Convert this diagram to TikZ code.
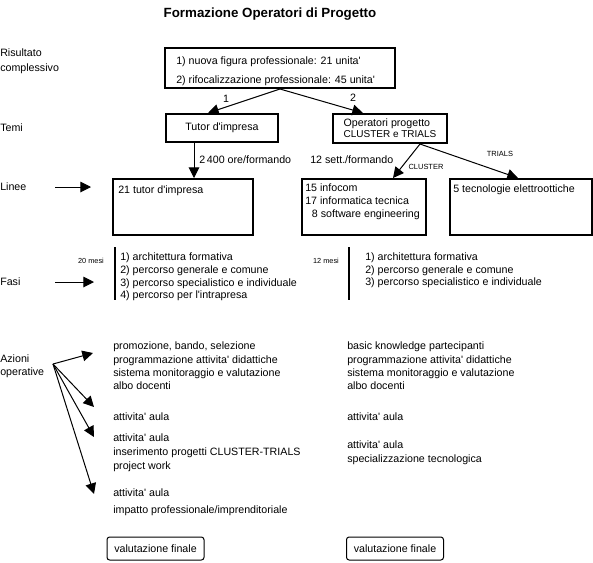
\documentclass[tikz,border=0pt]{standalone}
\usepackage{fontspec}
\newfontfamily\diagfont{Liberation Sans}
\usepackage{tikz}
\usetikzlibrary{arrows.meta}
\usetikzlibrary{shapes,arrows}
\tikzstyle{arrow} = [line width=0.75pt,-{Triangle[length=8pt,width=8pt]}]
\tikzstyle{thickbox} = [draw, line width=1.5pt, inner sep=0pt]
\tikzstyle{txt} = [inner sep=0pt, align=left, anchor=west]
\tikzstyle{endbox} = [draw, line width=0.75pt, rounded corners=2pt, inner sep=0pt, minimum width=97*0.75pt, minimum height=23*0.75pt]
\newcommand{\fsz}[2]{\fontsize{#1}{#2}\selectfont}

\begin{document}
\begin{tikzpicture}[x=0.75pt, y=-0.75pt, font=\diagfont\fsz{8}{10}]
    \useasboundingbox (0,0) rectangle (593,562);

    % 标题
    \node[font=\diagfont\bfseries\fsz{10}{12}] (title) at (270,14) {Formazione Operatori di Progetto};

    % 左侧标签
    \node[txt, font=\diagfont\fsz{8}{11.25}] (lblris) at (0,61.5) {Risultato\\complessivo};
    \node[txt] (lbltemi) at (0,128) {Temi};
    \node[txt] (lbllinee) at (0,187) {Linee};
    \node[txt] (lblfasi) at (0,282) {Fasi};
    \node[txt, font=\diagfont\fsz{8}{9.75}] (lblazioni) at (0,366.5) {Azioni\\operative};

    % 结果框
    \node[thickbox, minimum width=230*0.75pt, minimum height=40*0.75pt] (result) at (280,68) {};
    \node[txt, font=\diagfont\fsz{8}{14.25}] (resulttext) at (176,71.5) {1) nuova figura professionale: 21 unita'\\2) rifocalizzazione professionale: 45 unita'};

    % 主题框
    \node[thickbox, minimum width=112*0.75pt, minimum height=28*0.75pt] (tutor) at (222,128) {Tutor d'impresa};
    \node[thickbox, minimum width=114*0.75pt, minimum height=29*0.75pt, align=left, font=\diagfont\fsz{8}{8.5}] (oper) at (390,128.5) {Operatori progetto\\{\fsz{7.5}{8.5}CLUSTER e TRIALS}};

    \draw[arrow] (result.south) -- ([xshift=-14*0.75pt]tutor.north) node[pos=0.75, above] {1};
    \draw[arrow] (result.south) -- ([xshift=-27*0.75pt]oper.north) node[pos=0.88, above=3pt] {2};

    % 线路框
    \node[thickbox, minimum width=140*0.75pt, minimum height=56*0.75pt] (tutorline) at (183,207) {};
    \node[thickbox, minimum width=124*0.75pt, minimum height=56*0.75pt] (clusterline) at (364,207) {};
    \node[thickbox, minimum width=142*0.75pt, minimum height=56*0.75pt] (trialsline) at (521,207) {};
    \node[txt] (tutorlinetext) at (118,191) {21 tutor d'impresa};
    \node[txt, font=\diagfont\fsz{8}{9.75}] (clustertext) at (305,202) {15 infocom\\17 informatica tecnica\\\hspace*{5pt}8 software engineering};
    \node[txt] (trialstext) at (453,190) {5 tecnologie elettroottiche};

    \coordinate (tutorout) at ([xshift=-28*0.75pt]tutor.south);
    \draw[arrow] (tutorout) -- (tutorout |- tutorline.north);
    \node[txt] (orelbl) at (199,160) {2\,400 ore/formando};
    \node[txt] (settlbl) at (310,160) {12 sett./formando};

    \coordinate (split) at ([xshift=30*0.75pt]oper.south);
    \draw[arrow] (split) -- ([xshift=29*0.75pt]clusterline.north);
    \draw[arrow] (split) -- ([xshift=-3*0.75pt]trialsline.north);
    \node[font=\diagfont\fsz{5.6}{6}] (clusterlbl) at (426,167) {CLUSTER};
    \node[font=\diagfont\fsz{5.6}{6}] (trialslbl) at (500,154) {TRIALS};

    % 左侧箭头
    \coordinate (lineefrom) at (55,187);
    \coordinate (lineeto) at (91,187);
    \draw[arrow] (lineefrom) -- (lineeto);
    \coordinate (fasifrom) at (55,282);
    \coordinate (fasito) at (94,282);
    \draw[arrow] (fasifrom) -- (fasito);

    % 阶段
    \node[font=\diagfont\fsz{5.5}{6}] (mesi20) at (91,261) {20 mesi};
    \draw[line width=1.5pt] (115,247) -- (115,300);
    \node[txt, font=\diagfont\fsz{8}{9.5}] (fasitutor) at (120,277) {1) architettura formativa\\2) percorso generale e comune\\3) percorso specialistico e individuale\\4) percorso per l'intrapresa};
    \node[font=\diagfont\fsz{5.5}{6}] (mesi12) at (326,261) {12 mesi};
    \draw[line width=1.5pt] (349,247) -- (349,300);
    \node[txt, font=\diagfont\fsz{8}{9.5}] (fasioper) at (365,270.5) {1) architettura formativa\\2) percorso generale e comune\\3) percorso specialistico e individuale};

    % 行动
    \coordinate (azorig) at (53,364);
    \coordinate (az1) at (93,353);
    \coordinate (az2) at (94,407);
    \coordinate (az3) at (94,437);
    \coordinate (az4) at (94,494);
    \draw[arrow] (azorig) -- (az1);
    \draw[arrow] (azorig) -- (az2);
    \draw[arrow] (azorig) -- (az3);
    \draw[arrow] (azorig) -- (az4);

    \node[txt] (az1text) at (113,366) {promozione, bando, selezione\\programmazione attivita' didattiche\\sistema monitoraggio e valutazione\\albo docenti};
    \node[txt] (az2text) at (113,417) {attivita' aula};
    \node[txt, font=\diagfont\fsz{8}{10.5}] (az3text) at (113,453) {attivita' aula\\inserimento progetti CLUSTER-TRIALS\\project work};
    \node[txt, font=\diagfont\fsz{8}{12.5}] (az4text) at (113,502.5) {attivita' aula\\impatto professionale/imprenditoriale};

    \node[txt] (bz1text) at (347,366) {basic knowledge partecipanti\\programmazione attivita' didattiche\\sistema monitoraggio e valutazione\\albo docenti};
    \node[txt] (bz2text) at (347,417) {attivita' aula};
    \node[txt, font=\diagfont\fsz{8}{10.5}] (bz3text) at (347,453) {attivita' aula\\specializzazione tecnologica};

    % 最终评估
    \node[endbox] (valtutor) at (155.5,548.5) {valutazione finale};
    \node[endbox] (valoper) at (395,548.5) {valutazione finale};
\end{tikzpicture}
\end{document}
